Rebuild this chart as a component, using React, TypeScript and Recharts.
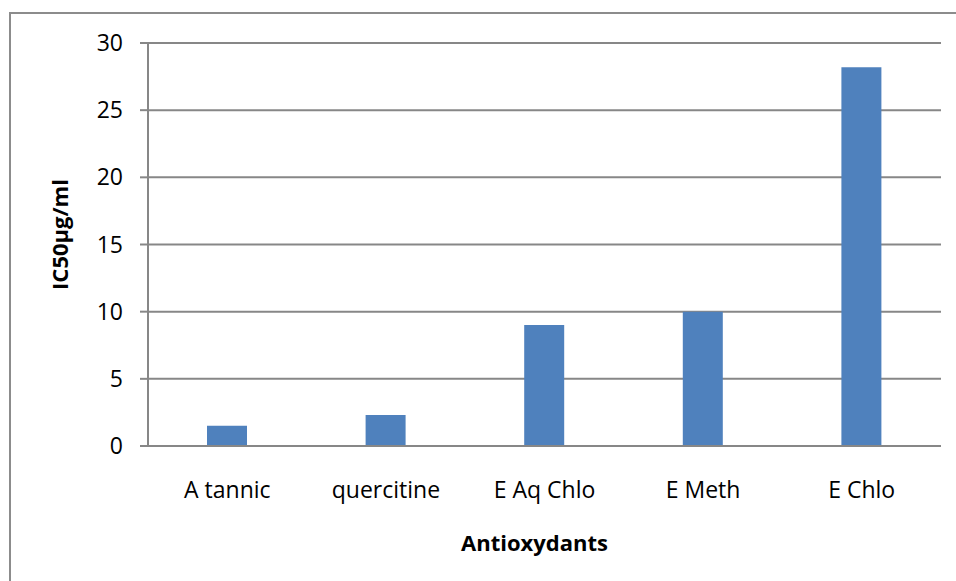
import React from "react";
import { BarChart, Bar, XAxis, YAxis, CartesianGrid, Label } from "recharts";

const categories = ["A tannic", "quercitine", "E Aq Chlo", "E Meth", "E Chlo"];
const ic50Values = [1.5, 2.3, 9.0, 10.0, 28.2];
const yTicks = [0, 5, 10, 15, 20, 25, 30];

const data = categories.map((name, i) => ({ name, value: ic50Values[i] }));

const FONT = "'Open Sans', sans-serif";
const GRAY = "#878787";

export default function App() {
  return (
    <div style={{ position: "absolute", left: 0, top: 0, width: 956, height: 581, background: "#fff", overflow: "hidden" }}>
      <div
        style={{
          position: "absolute",
          left: 9,
          top: 12,
          width: 1000,
          height: 700,
          border: "2px solid #8c8c8c",
          boxSizing: "border-box",
        }}
      />
      <div style={{ position: "absolute", left: 0, top: 0 }}>
        <BarChart
          width={956}
          height={581}
          data={data}
          margin={{ top: 43, right: 15, left: 0, bottom: 35 }}
          barSize={40}
          style={{ fontFamily: FONT }}
        >
          <CartesianGrid vertical={false} stroke={GRAY} strokeWidth={2} />
          <XAxis
            dataKey="name"
            height={100}
            tickLine={false}
            tickSize={0}
            tickMargin={36}
            axisLine={{ stroke: GRAY, strokeWidth: 2 }}
            tick={{ fill: "#000", fontSize: 23, fontFamily: FONT }}
            interval={0}
          >
            <Label
              value="Antioxydants"
              position="insideBottom"
              offset={-5}
              dx={-10}
              style={{ fill: "#000", fontSize: 22, fontWeight: 700, fontFamily: FONT }}
            />
          </XAxis>
          <YAxis
            width={148}
            domain={[0, 30]}
            ticks={yTicks}
            interval={0}
            tickSize={8}
            tickMargin={17}
            tickLine={{ stroke: GRAY, strokeWidth: 2 }}
            axisLine={{ stroke: GRAY, strokeWidth: 2 }}
            tick={{ fill: "#000", fontSize: 23, fontFamily: FONT }}
          >
            <Label
              value="IC50µg/ml"
              angle={-90}
              position="insideLeft"
              offset={60}
              dy={-10}
              style={{ fill: "#000", fontSize: 22, fontWeight: 700, fontFamily: FONT, textAnchor: "middle" }}
            />
          </YAxis>
          <Bar dataKey="value" fill="#4F81BD" isAnimationActive={false} />
        </BarChart>
      </div>
    </div>
  );
}
